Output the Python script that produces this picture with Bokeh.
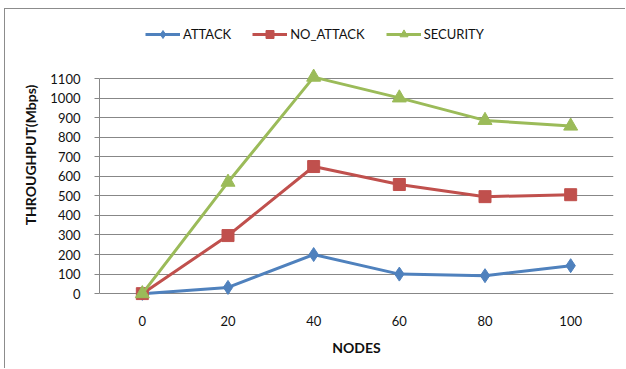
from bokeh.plotting import figure
from bokeh.models import Range1d, FixedTicker, Legend, LegendItem
from bokeh.embed import file_html
from bokeh.resources import INLINE

nodes = ["0", "20", "40", "60", "80", "100"]
attack = [0, 32, 200, 100, 92, 143]
no_attack = [0, 297, 650, 558, 496, 506]
security = [0, 570, 1107, 1001, 886, 857]
y_ticks = list(range(0, 1101, 100))

C_ATT = "#4F81BD"
C_NO = "#C0504D"
C_SEC = "#9BBB59"
GRID = "#878787"
FONT = "Lato"

p = figure(width=621, height=360, x_range=nodes, y_range=Range1d(-35, 1453),
           output_backend="svg", toolbar_location=None,
           min_border_left=94, min_border_right=13, min_border_top=0, min_border_bottom=69)
p.styles = {"margin-left": "4px", "margin-top": "8px",
            "border-left": "1px solid #8c8c8c", "border-top": "1px solid #8c8c8c"}
p.outline_line_color = None
p.background_fill_color = "white"
p.border_fill_color = "white"

p.xgrid.grid_line_color = None
p.ygrid.grid_line_color = GRID
p.ygrid.grid_line_width = 1
p.ygrid.ticker = FixedTicker(ticks=y_ticks)

ya = p.yaxis[0]
ya.ticker = FixedTicker(ticks=y_ticks)
ya.bounds = (0, 1100)
ya.axis_line_color = GRID
ya.major_tick_line_color = GRID
ya.major_tick_out = 5
ya.major_tick_in = 0
ya.minor_tick_line_color = None
ya.major_label_text_font = FONT
ya.major_label_text_font_size = "13px"
ya.major_label_text_color = "#111111"
ya.major_label_standoff = 14
ya.axis_label = "THROUGHPUT(Mbps)"
ya.axis_label_text_font = FONT
ya.axis_label_text_font_size = "14px"
ya.axis_label_text_font_style = "bold"
ya.axis_label_text_color = "#111111"
ya.axis_label_standoff = 8

xa = p.xaxis[0]
xa.axis_line_color = None
xa.major_tick_line_color = None
xa.minor_tick_line_color = None
xa.major_label_text_font = FONT
xa.major_label_text_font_size = "13px"
xa.major_label_text_color = "#111111"
xa.major_label_standoff = 9
xa.axis_label = "NODES"
xa.axis_label_text_font = FONT
xa.axis_label_text_font_size = "14px"
xa.axis_label_text_font_style = "bold"
xa.axis_label_text_color = "#111111"
xa.axis_label_standoff = 10

l1 = p.line(nodes, attack, line_color=C_ATT, line_width=3)
m1 = p.scatter(nodes, attack, marker="diamond", size=14,
               fill_color=C_ATT, line_color=C_ATT)
l2 = p.line(nodes, no_attack, line_color=C_NO, line_width=3)
m2 = p.scatter(nodes, no_attack, marker="square", size=12,
               fill_color=C_NO, line_color=C_NO)
l3 = p.line(nodes, security, line_color=C_SEC, line_width=3)
m3 = p.scatter(nodes, security, marker="triangle", size=14,
               fill_color=C_SEC, line_color=C_SEC)

legend = Legend(items=[LegendItem(label="ATTACK", renderers=[l1, m1]),
                       LegendItem(label="NO_ATTACK", renderers=[l2, m2]),
                       LegendItem(label="SECURITY", renderers=[l3, m3])],
                location=(46, 256), orientation="horizontal",
                glyph_width=35, glyph_height=20, label_standoff=3, spacing=21,
                padding=0, margin=0, border_line_color=None,
                background_fill_alpha=0,
                label_text_font=FONT, label_text_font_size="13px",
                label_text_color="#111111")
p.add_layout(legend)

open("out.html", "w").write(file_html(p, INLINE))
